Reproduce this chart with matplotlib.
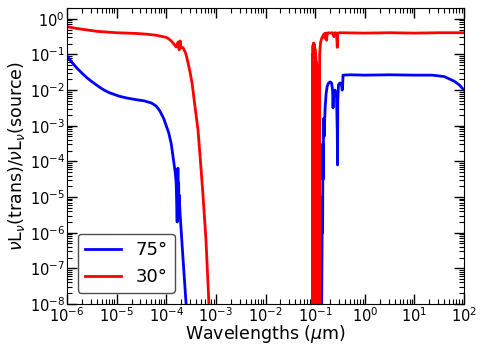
import numpy as np
import matplotlib
matplotlib.use('Agg')
import matplotlib.pyplot as plt

# values, stored as log10(wavelength) / log10(ratio)
# 75 deg, short-wavelength part
blue1_logwl = [-6.0, -5.9, -5.8, -5.7, -5.6, -5.5, -5.4, -5.33, -5.25, -5.15, -5.05,
               -4.95, -4.8, -4.6, -4.45, -4.3, -4.2, -4.13, -4.05, -4.0, -3.95, -3.9,
               -3.86, -3.82, -3.80, -3.78, -3.765, -3.755, -3.75, -3.745, -3.74, -3.72,
               -3.66, -3.60, -3.55]
blue1_logv = [-1.04, -1.22, -1.38, -1.52, -1.65, -1.76, -1.86, -1.93, -2.0, -2.07, -2.12,
              -2.17, -2.22, -2.27, -2.30, -2.36, -2.45, -2.58, -2.80, -3.0, -3.2, -3.5,
              -3.9, -4.3, -4.6, -5.70, -4.19, -5.4, -4.6, -5.2, -4.94, -5.5,
              -6.77, -8.0, -9.5]
# 75 deg, long-wavelength part
blue2_logwl = [-0.90, -0.87, -0.86, -0.855, -0.85, -0.845, -0.84, -0.83, -0.82, -0.80,
               -0.78, -0.76, -0.73, -0.70, -0.67, -0.65, -0.64, -0.63, -0.60, -0.57,
               -0.555, -0.55, -0.545, -0.53, -0.50, -0.47, -0.455, -0.445, -0.44,
               -0.3, 0.0, 0.5, 1.0, 1.36, 1.6, 1.8, 1.9, 2.0]
blue2_logv = [-12, -8, -6, -5.0, -6.0, -3.5, -4.5, -2.8, -3.3, -2.5,
              -2.1, -1.9, -1.8, -1.77, -1.8, -2.0, -2.5, -2.1, -2.0, -2.2,
              -3.2, -4.1, -2.3, -1.85, -1.80, -1.85, -2.0, -1.8, -1.58,
              -1.57, -1.58, -1.57, -1.58, -1.58, -1.62, -1.75, -1.85, -2.0]

# 30 deg, short-wavelength part
red1_logwl = [-6.0, -5.8, -5.6, -5.4, -5.2, -5.0, -4.8, -4.6, -4.4, -4.2, -4.1, -4.0,
              -3.95, -3.9, -3.85, -3.80, -3.76, -3.74, -3.72, -3.70, -3.66, -3.63,
              -3.60, -3.56, -3.52, -3.48, -3.42, -3.36, -3.32, -3.26, -3.20, -3.14, -3.10]
red1_logv = [-0.22, -0.27, -0.31, -0.35, -0.37, -0.39, -0.40, -0.41, -0.43, -0.46, -0.49,
             -0.52, -0.56, -0.62, -0.70, -0.79, -0.65, -0.87, -0.62, -0.81, -0.81, -0.9,
             -1.0, -1.24, -1.5, -1.80, -2.47, -3.12, -3.82, -4.94, -6.2, -8.0, -9.0]
# 30 deg, long-wavelength part (dense absorption lines near 0.1 um)
red2_logwl = [-1.10, -1.056, -1.052, -1.048, -1.044, -1.040, -1.036, -1.032, -1.028,
              -1.024, -1.020, -1.016, -1.012, -1.008, -1.004, -1.000, -0.996, -0.992,
              -0.988, -0.984, -0.980, -0.976, -0.972, -0.968, -0.964, -0.960, -0.956,
              -0.952, -0.948, -0.944, -0.940, -0.936, -0.932, -0.928, -0.924, -0.920,
              -0.915, -0.91, -0.90, -0.89, -0.88, -0.86, -0.84, -0.82, -0.80, -0.79,
              -0.77, -0.76, -0.74, -0.70, -0.66, -0.62, -0.61, -0.57, -0.555, -0.545,
              -0.5, 0.0, 0.5, 1.0, 1.5, 2.0]
red2_logv = [-12, -9, -1.0, -9, -0.74, -9, -0.69, -9, -0.68,
             -9, -0.72, -9, -0.77, -9, -0.85, -9, -0.95, -9,
             -1.05, -9, -1.2, -9, -1.4, -9, -9, -3.5, -9,
             -3.0, -9, -2.5, -9, -2.0, -9, -1.6, -9, -1.3,
             -9, -1.0, -0.8, -0.65, -0.6, -0.52, -0.47, -0.42, -0.55, -0.40,
             -0.6, -0.42, -0.39, -0.40, -0.39, -0.5, -0.39, -0.40, -0.8, -0.4,
             -0.39, -0.40, -0.39, -0.40, -0.39, -0.39]

labels = ['75°', '30°']

fig = plt.figure(figsize=(4.85, 3.53), dpi=100)
ax = fig.add_axes([0.138, 0.139, 0.819, 0.838])

for i, (xs, ys) in enumerate([(blue1_logwl, blue1_logv), (blue2_logwl, blue2_logv)]):
    ax.plot(10**np.array(xs), 10**np.array(ys, dtype=float), 'b-', lw=2,
            label=labels[0] if i == 0 else None)
for i, (xs, ys) in enumerate([(red1_logwl, red1_logv), (red2_logwl, red2_logv)]):
    ax.plot(10**np.array(xs), 10**np.array(ys, dtype=float), 'r-', lw=2,
            label=labels[1] if i == 0 else None)

ax.set_xscale('log')
ax.set_yscale('log')
ax.set_xlim(1e-6, 1e2)
ax.set_ylim(1e-8, 2)
ax.xaxis.set_major_locator(matplotlib.ticker.LogLocator(base=10, numticks=20))
ax.yaxis.set_major_locator(matplotlib.ticker.LogLocator(base=10, numticks=20))
ax.xaxis.set_minor_locator(matplotlib.ticker.LogLocator(base=10, subs=np.arange(2, 10), numticks=20))
ax.yaxis.set_minor_locator(matplotlib.ticker.LogLocator(base=10, subs=np.arange(2, 10), numticks=20))
ax.xaxis.set_minor_formatter(matplotlib.ticker.NullFormatter())
ax.yaxis.set_minor_formatter(matplotlib.ticker.NullFormatter())
ax.tick_params(which='both', direction='in', top=True, right=True, labelsize=10.5, pad=1.5)
ax.tick_params(which='major', length=7, width=1)
ax.tick_params(which='minor', length=3.5, width=0.8)

ax.set_xlabel(r'Wavelengths ($\mu$m)', fontsize=12.5, labelpad=-1)
ax.set_ylabel(r'$\nu$L$_\nu$(trans)/$\nu$L$_\nu$(source)', fontsize=12.5, labelpad=2)
ax.legend(loc='lower left', fontsize=13, edgecolor='0.3', framealpha=1,
          borderaxespad=0.6)

fig.savefig('out.png', dpi=100)
